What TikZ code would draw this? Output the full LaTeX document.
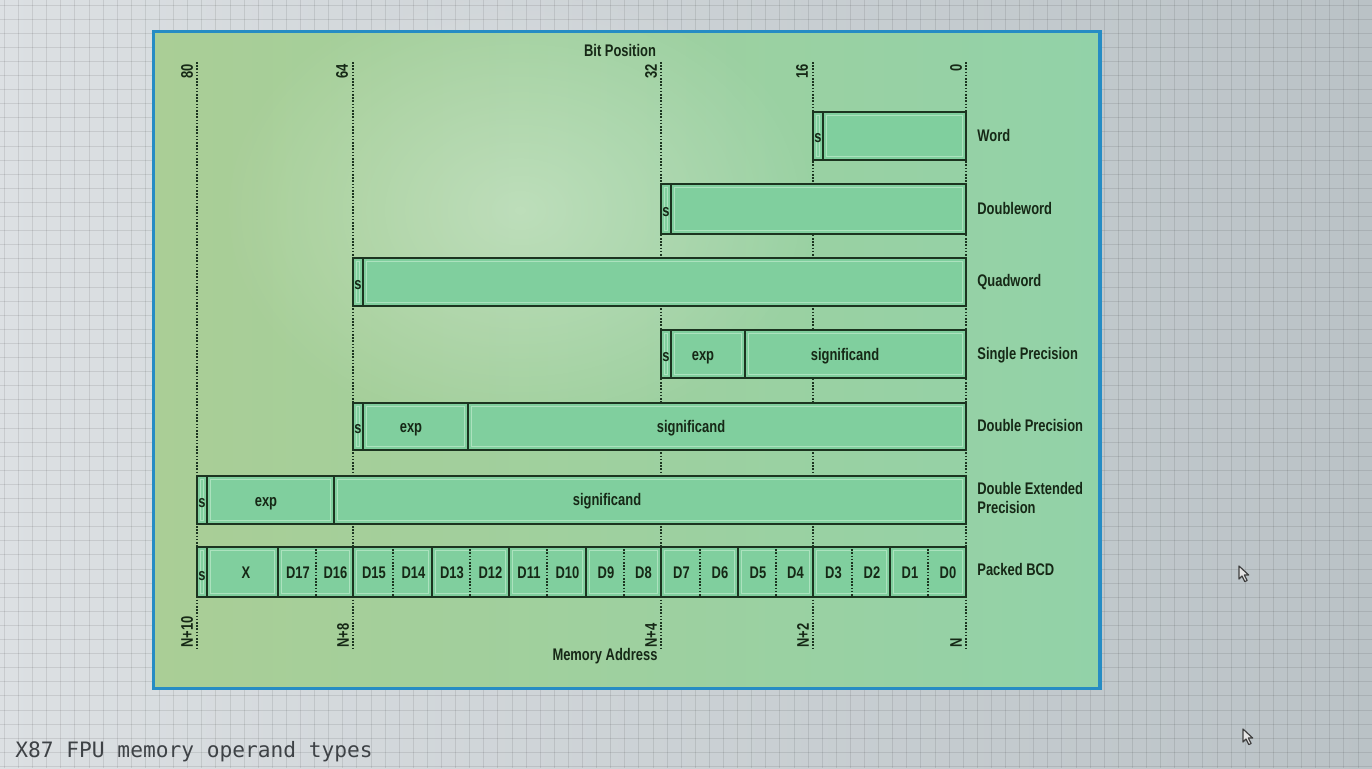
\documentclass[tikz,border=0pt]{standalone}
\usepackage{fontspec}
\newfontfamily\dfont{Liberation Sans}[FakeStretch=0.77]
\newfontfamily\cfont{DejaVu Sans Mono}
\usetikzlibrary{fit,fadings}

\definecolor{pageL}{RGB}{220,224,227}
\definecolor{pageR}{RGB}{186,194,198}
\definecolor{frameblue}{RGB}{38,140,196}
\definecolor{panelL}{RGB}{170,206,150}
\definecolor{panelM}{RGB}{176,214,170}
\definecolor{panelR}{RGB}{146,210,168}
\definecolor{barfill}{RGB}{128,207,158}
\definecolor{barinner}{RGB}{172,226,190}
\definecolor{bardark}{RGB}{28,52,32}
\definecolor{ink}{RGB}{22,40,22}
\definecolor{capink}{RGB}{62,66,70}

\tikzfading[name=softglow, inner color=transparent!0, outer color=transparent!100]

\newcommand\lblfont{\dfont\bfseries\fontsize{8.4}{10}\selectfont}

\begin{document}
\begin{tikzpicture}[x=0.5pt,y=-0.5pt,
  cell/.style={draw=bardark, line width=1pt, fill=barfill, inner sep=0pt,
    path picture={\draw[barinner, line width=0.6pt]
      ([shift={(1.6pt,-1.6pt)}]path picture bounding box.north west) rectangle
      ([shift={(-1.6pt,1.6pt)}]path picture bounding box.south east);}},
  lbl/.style={font=\lblfont, text=ink, inner sep=0pt},
  intext/.style={lbl, anchor=base},
  guide/.style={draw=bardark, line width=0.9pt, dash pattern=on 0.8pt off 0.8pt},
  vlbl/.style={lbl, rotate=90},
  gridline/.style={draw=black, draw opacity=0.09, line width=0.45pt},
  cursor/.style={draw=black!75, fill=white!80!gray, line width=0.6pt, line join=round}]

% page with grid
\useasboundingbox (0,0) rectangle (1372,768);
\shade[left color=pageL, right color=pageR] (0,0) rectangle (1372,768);
\foreach \i in {0,...,97} {
  \draw[gridline] (4.4+\i*14.1,0) -- (4.4+\i*14.1,768);
}
\foreach \j in {0,...,54} {
  \draw[gridline] (0,5+\j*14.1) -- (1372,5+\j*14.1);
}

% green panel
\shade[left color=panelL, middle color=panelM, right color=panelR]
  (153.5,31.5) rectangle (1100,688.5);
\fill[white, fill opacity=0.3, path fading=softglow] (520,210) ellipse (300 and 230);
\draw[frameblue, line width=1.6pt] (153.5,31.5) rectangle (1100,688.5);

% bit position guides
\foreach \n/\x in {80/197,64/353,32/661,16/813,0/966} {
  \coordinate (t\n) at (\x,62);
  \coordinate (b\n) at (\x,648);
  \draw[guide] (t\n) -- (b\n);
}

\node[lbl] (bitpos) at (620,50) {Bit Position};
\node[vlbl, anchor=east] (l80) at (187,64) {80};
\node[vlbl, anchor=east] (l64) at (342,64) {64};
\node[vlbl, anchor=east] (l32) at (651,64) {32};
\node[vlbl, anchor=east] (l16) at (802,64) {16};
\node[vlbl, anchor=east] (l0)  at (956,64) {0};

\node[lbl] (memaddr) at (605,656) {Memory Address};
\node[vlbl, anchor=west] (a10) at (187,648) {N+10};
\node[vlbl, anchor=west] (a8)  at (343,648) {N+8};
\node[vlbl, anchor=west] (a4)  at (651,648) {N+4};
\node[vlbl, anchor=west] (a2)  at (803,648) {N+2};
\node[vlbl, anchor=west] (a0)  at (956,648) {N};

% Word
\node[cell, fit={(813,112)(823,160)}] (ws) {};
\node[cell, fit={(823,112)(966,160)}] (wv) {};
\node[intext] (wst) at (818,142) {s};
% Doubleword
\node[cell, fit={(661,184)(671,234)}] (ds) {};
\node[cell, fit={(671,184)(966,234)}] (dv) {};
\node[intext] (dst) at (666,216) {s};
% Quadword
\node[cell, fit={(353,258)(363,306)}] (qs) {};
\node[cell, fit={(363,258)(966,306)}] (qv) {};
\node[intext] (qst) at (358,289) {s};
% Single precision
\node[cell, fit={(661,330)(671,378)}] (sps) {};
\node[cell, fit={(671,330)(745,378)}] (spe) {};
\node[cell, fit={(745,330)(966,378)}] (spm) {};
\node[intext] (spst) at (666,361) {s};
\node[intext] (spet) at (703,360) {exp};
\node[intext] (spmt) at (845,360) {significand};
% Double precision
\node[cell, fit={(353,403)(363,450)}] (dps) {};
\node[cell, fit={(363,403)(468,450)}] (dpe) {};
\node[cell, fit={(468,403)(966,450)}] (dpm) {};
\node[intext] (dpst) at (358,433) {s};
\node[intext] (dpet) at (411,432) {exp};
\node[intext] (dpmt) at (691,432) {significand};
% Double extended precision
\node[cell, fit={(197,476)(207,524)}] (xps) {};
\node[cell, fit={(207,476)(334,524)}] (xpe) {};
\node[cell, fit={(334,476)(966,524)}] (xpm) {};
\node[intext] (xpst) at (202,507) {s};
\node[intext] (xpet) at (266,506) {exp};
\node[intext] (xpmt) at (607,505) {significand};
% Packed BCD
\node[cell, fit={(197,547)(207,597)}] (bs) {};
\node[cell, fit={(207,547)(278,597)}] (bx) {};
\node[intext] (bst) at (202,580) {s};
\node[intext] (bxt) at (246,578) {X};
\foreach \k/\l/\r/\m/\hi/\lo in {
    9/278/353/316/17/16, 8/353/432/393/15/14, 7/432/509/470/13/12,
    6/509/586/547/11/10, 5/586/661/624/9/8, 4/661/738/700/7/6,
    3/738/813/776/5/4, 2/813/890/852/3/2, 1/890/966/928/1/0} {
  \node[cell, fit={(\l,547)(\r,597)}] (byte\k) {};
  \draw[guide] (byte\k.north -| \m,0) -- (byte\k.south -| \m,0);
  \node[intext] (d\hi) at ({(\l+\m)/2+1},578) {D\hi};
  \node[intext] (d\lo) at ({(\m+\r)/2+1},578) {D\lo};
}

% row names
\node[lbl, anchor=base west] (nword) at (977,141) {Word};
\node[lbl, anchor=base west] (ndword) at (977,214) {Doubleword};
\node[lbl, anchor=base west] (nqword) at (977,286) {Quadword};
\node[lbl, anchor=base west] (nsingle) at (977,359) {Single Precision};
\node[lbl, anchor=base west] (ndouble) at (977,431) {Double Precision};
\node[lbl, anchor=base west] (next) at (977,494) {Double Extended};
\node[lbl, anchor=base west] (next2) at (977,513) {Precision};
\node[lbl, anchor=base west] (nbcd) at (977,575) {Packed BCD};

% caption
\node[anchor=base west, inner sep=0pt, text=capink,
      font=\cfont\fontsize{10.6}{12}\selectfont] (caption) at (15,757)
  {X87 FPU memory operand types};

% mouse pointers
\draw[cursor] (1239,566) -- ++(0,13) -- ++(3,-3) -- ++(2.8,5.6) -- ++(2.3,-1.1)
  -- ++(-2.8,-5.5) -- ++(4.4,0) -- cycle;
\draw[cursor] (1243,729) -- ++(0,13) -- ++(3,-3) -- ++(2.8,5.6) -- ++(2.3,-1.1)
  -- ++(-2.8,-5.5) -- ++(4.4,0) -- cycle;
\end{tikzpicture}
\end{document}
